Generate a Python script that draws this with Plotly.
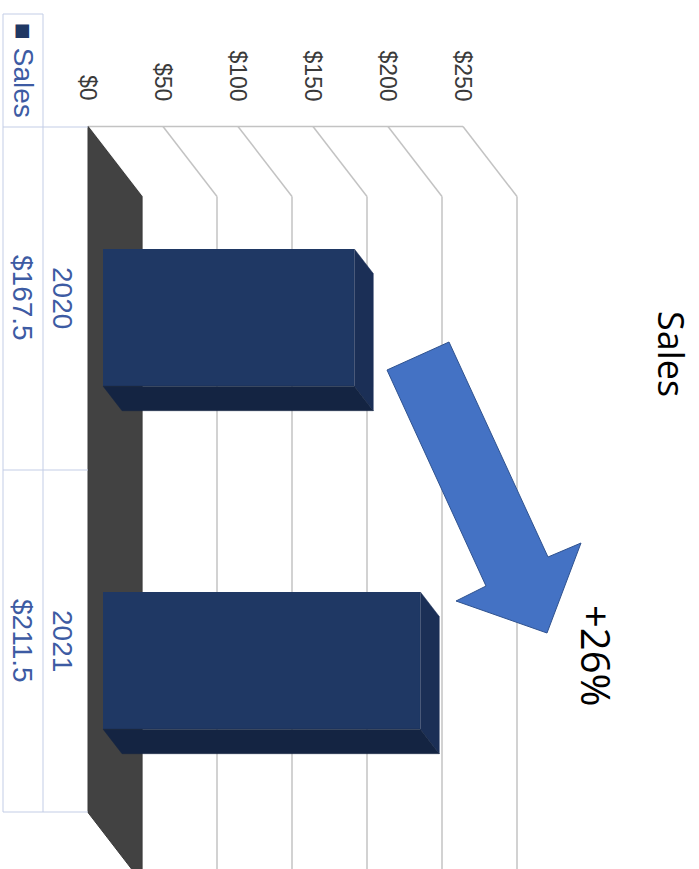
import plotly.graph_objects as go

# ---------------- data ----------------
categories = ["2020", "2021"]
sales = [167.5, 211.5]
value_labels = ["$167.5", "$211.5"]
value_ticks = [0, 50, 100, 150, 200, 250]
tick_labels = ["$0", "$50", "$100", "$150", "$200", "$250"]
series_name = "Sales"
title_text = "Sales"
change_label = "+26%"

# ---------------- geometry helpers (chart is rotated 90° clockwise) ----------------
W, H = 699, 869
PX_PER_VAL = 1.5      # pixels per dollar along value direction
X0_PX = 88            # pixel x of $0 on the front plane
CAT0_PX = 298         # pixel y of first category on the front plane
CAT_STEP_PX = 343     # pixel distance between categories


def vx(px):
    return (px - X0_PX) / PX_PER_VAL


def cy(py):
    return (py - CAT0_PX) / CAT_STEP_PX


DX = 54 / PX_PER_VAL          # 3-D depth offset, value units
DY = 70 / CAT_STEP_PX         # 3-D depth offset, category units
F1, F2 = 0.28, 0.63           # bar front / back depth fractions
HW = 0.2                      # bar half width (category units)
n = len(categories)
c_lo, c_hi = -0.5, n - 0.5
vmax = value_ticks[-1]

GRID = "#c3c3c3"
TABLE_LINE = "#c3cde6"
TABLE_TEXT = "#3d5ba3"
NAVY = "#1f3864"
NAVY_TOP = "#1b2f56"
NAVY_SIDE = "#142442"
FLOOR = "#424242"

fig = go.Figure()
shapes = []

# back-wall vertical gridlines
for t in value_ticks:
    shapes.append(dict(type="line", xref="x", yref="y", layer="below",
                       x0=t + DX, x1=t + DX, y0=c_lo + DY, y1=c_hi + DY + 0.3,
                       line=dict(color=GRID, width=1.5)))
# side-wall diagonal gridlines
for t in value_ticks:
    shapes.append(dict(type="line", xref="x", yref="y", layer="below",
                       x0=t, x1=t + DX, y0=c_lo, y1=c_lo + DY,
                       line=dict(color=GRID, width=1.5)))
# side-wall front edge
shapes.append(dict(type="line", xref="x", yref="y", layer="below",
                   x0=0, x1=vmax, y0=c_lo, y1=c_lo,
                   line=dict(color=GRID, width=1.5)))
# floor (dark) – rotated so it appears as a vertical band
shapes.append(dict(type="path", xref="x", yref="y", layer="below",
                   path=f"M 0,{c_lo} L {DX},{c_lo + DY} L {DX},{c_hi + DY} L 0,{c_hi} Z",
                   fillcolor=FLOOR, line=dict(color="#3a3a3a", width=1)))

# ---------------- bars ----------------
bar_y = [i + F1 * DY for i in range(n)]
for i, v in enumerate(sales):
    # top face (appears on the right)
    fig.add_trace(go.Scatter(
        x=[v + F1 * DX, v + F2 * DX, v + F2 * DX, v + F1 * DX, v + F1 * DX],
        y=[i + F1 * DY - HW, i + F2 * DY - HW, i + F2 * DY + HW, i + F1 * DY + HW, i + F1 * DY - HW],
        fill="toself", fillcolor=NAVY_TOP, mode="lines",
        line=dict(color=NAVY_TOP, width=0.5), hoverinfo="skip", showlegend=False))
    # side face (appears below)
    fig.add_trace(go.Scatter(
        x=[F1 * DX, v + F1 * DX, v + F2 * DX, F2 * DX, F1 * DX],
        y=[i + F1 * DY + HW, i + F1 * DY + HW, i + F2 * DY + HW, i + F2 * DY + HW, i + F1 * DY + HW],
        fill="toself", fillcolor=NAVY_SIDE, mode="lines",
        line=dict(color=NAVY_SIDE, width=0.5), hoverinfo="skip", showlegend=False))

fig.add_trace(go.Bar(
    x=sales, y=bar_y, base=F1 * DX, orientation="h", width=2 * HW,
    marker=dict(color=NAVY, line=dict(color=NAVY, width=0)),
    name=series_name, showlegend=False, hoverinfo="skip"))

# ---------------- data table ----------------
def px_x(px):
    return px / W


def px_y(py):
    return 1 - py / H


table_lines = [
    (3, 14, 3, 812), (43, 14, 43, 812),
    (3, 14, 43, 14),
    (3, 127, 88, 127), (3, 470, 88, 470), (3, 812, 88, 812),
]
for (xa, ya, xb, yb) in table_lines:
    shapes.append(dict(type="line", xref="paper", yref="paper",
                       x0=px_x(xa), y0=px_y(ya), x1=px_x(xb), y1=px_y(yb),
                       line=dict(color=TABLE_LINE, width=1)))

# ---------------- block arrow ----------------
arrow_pts = [(387, 370), (449, 342), (548, 557), (581, 543), (547, 633), (456, 601), (486, 586)]
path = "M " + " L ".join(f"{px_x(a)},{px_y(b)}" for a, b in arrow_pts) + " Z"
shapes.append(dict(type="path", xref="paper", yref="paper", path=path,
                   fillcolor="#4472c4", line=dict(color="#2f528f", width=1)))

annotations = []
# value tick labels
for t, lab in zip(value_ticks, tick_labels):
    annotations.append(dict(x=t, y=cy(103), xref="x", yref="y", text=lab,
                            textangle=90, xanchor="center", yanchor="bottom",
                            showarrow=False,
                            font=dict(family="Liberation Sans", size=23, color="#3a3a3a")))
# table: legend key
annotations.append(dict(x=px_x(23), y=px_y(70), xref="paper", yref="paper",
                        text=f"<span style='color:{NAVY}'>■</span> {series_name}",
                        textangle=90, xanchor="center", yanchor="middle", showarrow=False,
                        font=dict(family="Liberation Sans", size=28, color=TABLE_TEXT)))
# table: categories & values
for i, (c, vl) in enumerate(zip(categories, value_labels)):
    annotations.append(dict(x=px_x(63), y=i, xref="paper", yref="y", text=c,
                            textangle=90, xanchor="center", yanchor="middle", showarrow=False,
                            font=dict(family="Liberation Sans", size=28, color=TABLE_TEXT)))
    annotations.append(dict(x=px_x(23), y=i, xref="paper", yref="y", text=vl,
                            textangle=90, xanchor="center", yanchor="middle", showarrow=False,
                            font=dict(family="Liberation Sans", size=28, color=TABLE_TEXT)))
# title
annotations.append(dict(x=px_x(672), y=px_y(354), xref="paper", yref="paper", text=title_text,
                        textangle=90, xanchor="center", yanchor="middle", showarrow=False,
                        font=dict(family="Open Sans", size=36, color="#000000")))
# change label
annotations.append(dict(x=px_x(597), y=px_y(656), xref="paper", yref="paper", text=change_label,
                        textangle=90, xanchor="center", yanchor="middle", showarrow=False,
                        font=dict(family="Open Sans", size=40, color="#000000")))

fig.update_layout(
    width=W, height=H, autosize=False,
    margin=dict(l=0, r=0, t=0, b=0, pad=0),
    paper_bgcolor="white", plot_bgcolor="white",
    xaxis=dict(range=[vx(0), vx(W)], visible=False, fixedrange=True),
    yaxis=dict(range=[cy(H), cy(0)], visible=False, fixedrange=True),
    shapes=shapes, annotations=annotations, showlegend=False,
    bargap=0,
)

fig.write_html("out.html")
